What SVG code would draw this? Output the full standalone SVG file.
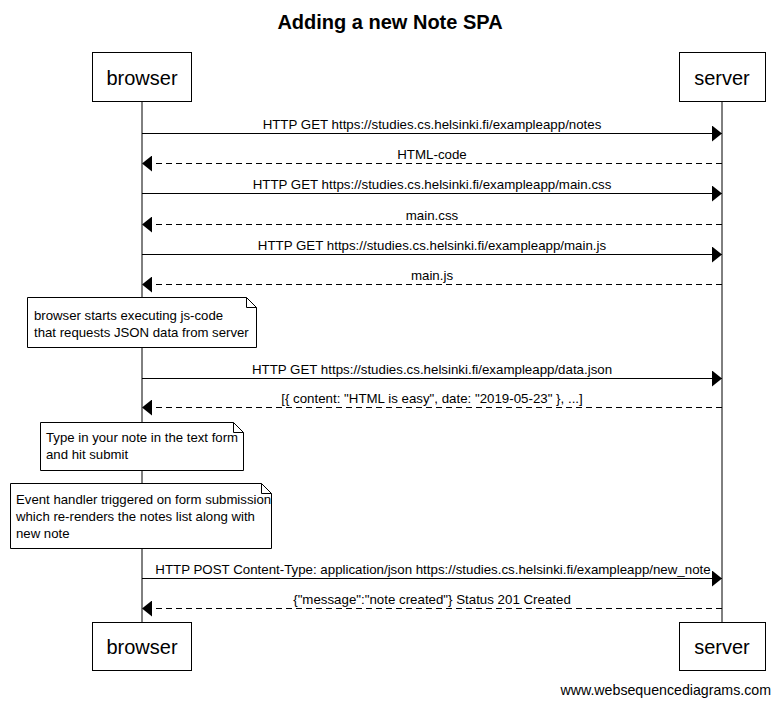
<svg xmlns="http://www.w3.org/2000/svg" width="780" height="705" viewBox="0 0 780 705">
<style>
text{font-family:"Liberation Sans",Arial,sans-serif;fill:#000}
.title{font-size:20px;font-weight:bold;text-anchor:middle}
.actor rect{fill:#fff;stroke:#000;stroke-width:1}
.actor text{font-size:20px;text-anchor:middle}
.life{stroke:#000;stroke-width:1}
.msg{stroke:#000;stroke-width:1;fill:none}
.dash{stroke-dasharray:6,4}
.lbl{font-size:13.3px;text-anchor:middle}
.note path{fill:#fff;stroke:#000;stroke-width:1}
.note text{font-size:13.2px}
.foot{font-size:14.2px;text-anchor:end}
</style>
<defs>
<marker id="ah" markerWidth="11" markerHeight="16" refX="10" refY="8" orient="auto" markerUnits="userSpaceOnUse">
<path d="M0,0 L10,8 L0,16 Z" fill="#000"/>
</marker>
</defs>
<rect width="780" height="705" fill="#fff"/>
<text class="title" x="390" y="29">Adding a new Note SPA</text>
<g id="lifelines">
<line class="life" x1="142" y1="102" x2="142" y2="622"/>
<line class="life" x1="722" y1="102" x2="722" y2="622"/>
</g>
<g id="browser" class="actor">
<rect x="92.5" y="52.5" width="99" height="49"/>
<text x="142" y="85">browser</text>
</g>
<g id="server" class="actor">
<rect x="679.5" y="52.5" width="86" height="49"/>
<text x="722" y="85">server</text>
</g>
<g id="browser-bottom" class="actor">
<rect x="92.5" y="622.5" width="99" height="48"/>
<text x="142" y="654">browser</text>
</g>
<g id="server-bottom" class="actor">
<rect x="679.5" y="622.5" width="86" height="48"/>
<text x="722" y="654">server</text>
</g>
<g id="connectors">
<line class="msg" x1="142" y1="133.5" x2="722" y2="133.5" marker-end="url(#ah)"/>
<text class="lbl" x="432" y="129">HTTP GET https://studies.cs.helsinki.fi/exampleapp/notes</text>
<line class="msg dash" x1="722" y1="163.5" x2="142" y2="163.5" marker-end="url(#ah)"/>
<text class="lbl" x="432" y="159">HTML-code</text>
<line class="msg" x1="142" y1="193.5" x2="722" y2="193.5" marker-end="url(#ah)"/>
<text class="lbl" x="432" y="189">HTTP GET https://studies.cs.helsinki.fi/exampleapp/main.css</text>
<line class="msg dash" x1="722" y1="224.5" x2="142" y2="224.5" marker-end="url(#ah)"/>
<text class="lbl" x="432" y="220">main.css</text>
<line class="msg" x1="142" y1="254.5" x2="722" y2="254.5" marker-end="url(#ah)"/>
<text class="lbl" x="432" y="250">HTTP GET https://studies.cs.helsinki.fi/exampleapp/main.js</text>
<line class="msg dash" x1="722" y1="284.5" x2="142" y2="284.5" marker-end="url(#ah)"/>
<text class="lbl" x="432" y="280">main.js</text>
<line class="msg" x1="142" y1="378.5" x2="722" y2="378.5" marker-end="url(#ah)"/>
<text class="lbl" x="432" y="374">HTTP GET https://studies.cs.helsinki.fi/exampleapp/data.json</text>
<line class="msg dash" x1="722" y1="407.5" x2="142" y2="407.5" marker-end="url(#ah)"/>
<text class="lbl" x="432" y="403">[{ content: "HTML is easy", date: "2019-05-23" }, ...]</text>
<line class="msg" x1="142" y1="578.5" x2="722" y2="578.5" marker-end="url(#ah)"/>
<text class="lbl" x="433" y="574">HTTP POST Content-Type: application/json https://studies.cs.helsinki.fi/exampleapp/new_note</text>
<line class="msg dash" x1="722" y1="608.5" x2="142" y2="608.5" marker-end="url(#ah)"/>
<text class="lbl" x="432" y="604">{"message":"note created"} Status 201 Created</text>
</g>
<g id="note1" class="note">
<path d="M27.5,297.5 H246.5 L256.5,307.5 V347.5 H27.5 Z M246.5,297.5 V307.5 H256.5"/>
<text x="34" y="320">browser starts executing js-code</text>
<text x="34" y="337">that requests JSON data from server</text>
</g>
<g id="note2" class="note">
<path d="M40.5,422.5 H233.5 L243.5,432.5 V470.5 H40.5 Z M233.5,422.5 V432.5 H243.5"/>
<text x="46" y="442">Type in your note in the text form</text>
<text x="46" y="459">and hit submit</text>
</g>
<g id="note3" class="note">
<path d="M10.5,483.5 H261.5 L271.5,493.5 V548.5 H10.5 Z M261.5,483.5 V493.5 H271.5"/>
<text x="16" y="504">Event handler triggered on form submission</text>
<text x="16" y="521">which re-renders the notes list along with</text>
<text x="16" y="538">new note</text>
</g>
<text class="foot" x="771" y="695">www.websequencediagrams.com</text>
</svg>
